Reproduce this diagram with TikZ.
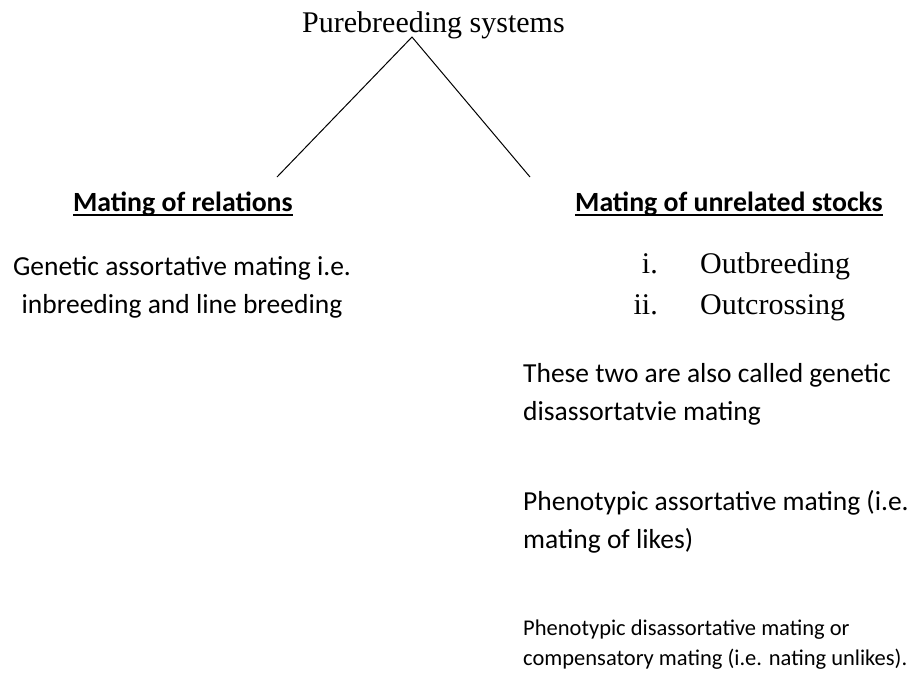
\documentclass[tikz,border=0pt]{standalone}
\usepackage{fontspec}
\setmainfont{Liberation Serif}
\newfontfamily\carfont{Carlito}
\tikzset{
  ser/.style={inner sep=0pt, anchor=base west, font=\fontsize{30}{40}\selectfont},
  num/.style={inner sep=0pt, anchor=base east, font=\fontsize{30}{40}\selectfont},
  head/.style={inner sep=0pt, anchor=base west, font=\carfont\bfseries\fontsize{27.8}{34}\selectfont},
  body/.style={inner sep=0pt, anchor=base west, font=\carfont\fontsize{27.5}{38}\selectfont, align=left},
  bodyc/.style={inner sep=0pt, anchor=base, font=\carfont\fontsize{27.5}{38}\selectfont, align=center},
  small/.style={inner sep=0pt, anchor=base west, font=\carfont\fontsize{22.5}{30}\selectfont, align=left},
  conn/.style={line width=1pt},
  uline/.style={line width=2pt}
}
\begin{document}
\begin{tikzpicture}[x=1pt,y=-1pt]
\useasboundingbox (0,0) rectangle (912,673);
\node[ser] (title) at (302,32) {Purebreeding systems};
\coordinate (apex) at (412,37);
\coordinate (lend) at (277,177);
\coordinate (rend) at (530,177);
\draw[conn] (lend) -- (apex) -- (rend);
\node[head] (rel) at (73,211) {Mating of relations};
\draw[uline] ([yshift=-4pt]rel.base west) -- ([yshift=-4pt]rel.base east);
\node[head] (unrel) at (575,211) {Mating of unrelated stocks};
\draw[uline] ([yshift=-4pt]unrel.base west) -- ([yshift=-4pt]unrel.base east);
\node[bodyc] (gen) at (182,313) {Genetic assortative mating i.e.\\inbreeding and line breeding};
\node[num] (i1) at (658,273) {i.};
\node[ser] (o1) at (700,273) {Outbreeding};
\node[num] (i2) at (658,314) {ii.};
\node[ser] (o2) at (700,314) {Outcrossing};
\node[body] (two) at (523,420) {These two are also called genetic\\disassortatvie mating};
\node[body] (phen) at (523,548) {Phenotypic assortative mating (i.e.\\mating of likes)};
\node[small] (dis) at (523,665) {Phenotypic disassortative mating or\\compensatory mating (i.e. nating unlikes).};
\end{tikzpicture}
\end{document}
